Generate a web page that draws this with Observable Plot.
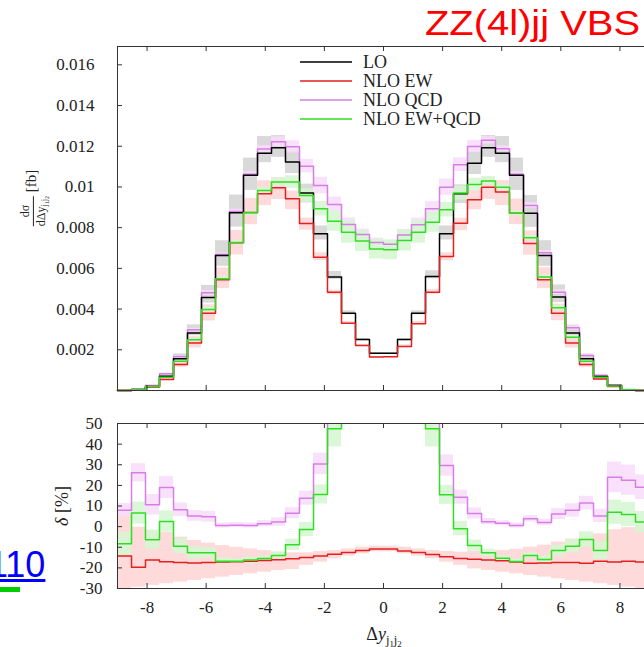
<!DOCTYPE html>
<html>
<head>
<meta charset="utf-8">
<script src="https://cdn.jsdelivr.net/npm/d3@7"></script>
<script src="https://cdn.jsdelivr.net/npm/@observablehq/plot@0.6"></script>
<style>
  html, body { margin: 0; padding: 0; width: 644px; height: 647px; overflow: hidden; background: #fff; }
  #root { position: relative; width: 644px; height: 647px; overflow: hidden; }
  #root svg { max-width: none !important; }
  .abs { position: absolute; }
  .serif { font-family: "Liberation Serif", "DejaVu Serif", serif; color: #222; }
  .rot { transform: translate(-50%, -50%) rotate(-90deg); white-space: nowrap; }
  .frac { display: inline-flex; flex-direction: column; vertical-align: middle; font-size: 12px; line-height: 1.05; text-align: center; }
  .frac .num { border-bottom: 1px solid #222; padding: 0 1px 1px 1px; }
  .frac .den { padding-top: 1px; }
  sub { font-size: 70%; vertical-align: -0.3em; line-height: 0; }
  .legend-row { position: absolute; left: 300px; display: flex; align-items: center; height: 20px; }
</style>
</head>
<body>
<div id="root"></div>
<script>
// ---------------- data ----------------
const binEdges = [-9, -8.526, -8.053, -7.579, -7.105, -6.632, -6.158, -5.684, -5.211, -4.737,
  -4.263, -3.789, -3.316, -2.842, -2.368, -1.895, -1.421, -0.947, -0.474, 0,
  0.474, 0.947, 1.421, 1.895, 2.368, 2.842, 3.316, 3.789, 4.263, 4.737,
  5.211, 5.684, 6.158, 6.632, 7.105, 7.579, 8.053, 8.526, 9];

const seriesNames = ["LO", "NLO EW", "NLO QCD", "NLO EW+QCD"];
const seriesColors = ["#000000", "#e41f1f", "#d77ee6", "#30dd22"];
const bandColors = ["#d2d2d2", "#ffd3d3", "#f8dcfb", "#d3f7d0"];

// d sigma / d Delta y  [fb]
const lo = [0, 0.00005, 0.0002, 0.0007, 0.00156, 0.00283, 0.00457, 0.00663, 0.00873, 0.01057,
  0.01166, 0.01193, 0.01122, 0.0097, 0.0077, 0.00557, 0.0038, 0.00251, 0.00183, 0.00183,
  0.0025, 0.0038, 0.0056, 0.0077, 0.00967, 0.01117, 0.01193, 0.01166, 0.01057, 0.00871,
  0.00663, 0.00459, 0.00282, 0.00156, 0.00069, 0.00025, 0.00004, 0];
const nloEW = [0, 0.00004, 0.00017, 0.00054, 0.00128, 0.00233, 0.0038, 0.00544, 0.00726, 0.00875,
  0.00967, 0.00996, 0.00942, 0.0082, 0.00655, 0.00483, 0.00331, 0.00221, 0.00164, 0.00166,
  0.00216, 0.00328, 0.00483, 0.00658, 0.00822, 0.00937, 0.00999, 0.00975, 0.00871, 0.00722,
  0.00544, 0.0038, 0.00233, 0.00128, 0.00057, 0.0002, 0.00003, 0];
const nloQCD = [0, 0.00006, 0.00025, 0.00082, 0.00167, 0.00298, 0.0048, 0.00668, 0.0088, 0.01062,
  0.01186, 0.01222, 0.01197, 0.01102, 0.01007, 0.00914, 0.00815, 0.00766, 0.00727, 0.00718,
  0.00764, 0.00814, 0.00893, 0.00999, 0.01109, 0.01199, 0.01229, 0.01188, 0.01062, 0.00909,
  0.00677, 0.00483, 0.00308, 0.00172, 0.00074, 0.00027, 0.00005, 0];
const nloEWQCD = [0, 0.00004, 0.0002, 0.00065, 0.00144, 0.00249, 0.00398, 0.00549, 0.00727, 0.00873,
  0.00983, 0.01024, 0.01024, 0.00958, 0.00893, 0.00832, 0.00778, 0.00734, 0.00695, 0.00691,
  0.00737, 0.00778, 0.00827, 0.00888, 0.0097, 0.01012, 0.01029, 0.00999, 0.00871, 0.0075,
  0.00557, 0.00406, 0.00262, 0.00144, 0.00065, 0.00022, 0.00004, 0];

// LO scale band, percent up / down
const loBandUp = [15, 15, 15, 15, 15, 14, 13, 11, 10, 8, 7, 5, 5, 4.5, 5, 5, 3, 2, 1.5, 1.5,
  2, 3, 5, 5, 4.5, 5, 5, 7, 8, 10, 11, 13, 14, 15, 15, 15, 15, 15];
const loBandDown = [8, 8, 8, 8, 6, 5, 6, 8, 8, 7, 4, 4, 5, 5, 4, 2, 2, 2, 1.5, 1.5,
  2, 2, 2, 4, 5, 5, 4, 4, 7, 8, 8, 6, 5, 6, 8, 8, 8, 8];

// relative corrections delta [%]
const deltaEW = [-14.3, -19.7, -16.2, -17.0, -17.4, -17.6, -17.4, -17.2, -17.0, -16.8,
  -16.4, -16.0, -15.6, -15.0, -14.2, -13.4, -12.6, -11.6, -10.9, -10.9,
  -11.8, -12.6, -13.5, -14.6, -15.4, -15.8, -16.2, -16.6, -17.2, -17.8,
  -17.6, -17.4, -17.4, -17.8, -16.8, -17.2, -16.8, -17.2];
const deltaQCD = [8.0, 26.1, 10.6, 19.0, 8.2, 5.2, 4.8, 0.5, 0.7, 0.5,
  1.4, 2.2, 6.5, 13.8, 30.4, 64, 113, 207, 296, 289,
  206, 114, 59, 29.6, 14.3, 6.4, 2.4, 1.6, 0.5, 3.8,
  2.0, 6.1, 7.9, 11.4, 5.2, 23.9, 22.5, 19.1];
const deltaEWQCD = [-8.3, 6.6, -6.4, 2.5, -9.5, -12.7, -12.7, -16.8, -16.8, -16.2,
  -15.5, -14.0, -8.8, -1.4, 15.6, 47.5, 105, 192, 280, 278,
  195, 105, 47.5, 15.4, -1.0, -9.2, -12.7, -15.3, -16.9, -14.0,
  -15.9, -11.6, -9.5, -6.2, -11.6, 7.0, 5.9, 2.2];

// NLO EW scale band in delta units [%]
const deltaEWBandHi = [10.2, -0.3, -1.9, -2.7, -5.1, -6.7, -8.0, -9.2, -10.0, -10.8,
  -11.6, -12.4, -12.7, -12.7, -12.1, -11.6, -10.8, -10.0, -9.5, -9.5,
  -10.0, -10.8, -11.6, -12.1, -12.4, -12.0, -12.0, -11.6, -11.0, -10.0,
  -9.0, -7.5, -6.0, -5.0, -3.5, -1.5, -0.5, 0.5];
const deltaEWBandLo = [-31, -29.4, -28.5, -27.7, -26.9, -26.1, -25.3, -24.5, -23.7, -22.9,
  -22.1, -21.3, -20.8, -18.8, -17.2, -15.6, -14.3, -13.2, -12.2, -12.2,
  -13.2, -14.3, -15.6, -17.2, -18.8, -20.5, -21.3, -22.1, -22.9, -23.7,
  -24.5, -25.3, -26.1, -26.9, -27.7, -28.5, -29.4, -31];

// NLO QCD and NLO EW+QCD scale bands, +- percent of own value
const qcdBandPct = [3, 3.5, 4.5, 4.5, 3, 2.5, 2.5, 1.2, 1.2, 1.2, 1.5, 2, 2.5, 3, 4, 4, 4, 3.5, 3, 3,
  3.5, 4, 4, 4, 3, 2.5, 1.5, 1.2, 1.2, 1.5, 1.5, 2.5, 3, 3, 3, 6, 6, 5];
const ewqcdBandPct = [6, 5, 5, 5, 4, 3.5, 3, 2, 1.5, 1.5, 1.5, 2, 3, 3.5, 4, 6, 7, 7, 7, 7,
  7, 7, 6, 4, 3.5, 3, 2, 1.5, 1.5, 1.5, 2, 3, 3.5, 4, 5, 5.5, 5.5, 5];

const xTicks = [-8, -6, -4, -2, 0, 2, 4, 6, 8];
const xTickLabels = ["-8", "-6", "-4", "-2", "0", "2", "4", "6", "8"];
const yTicksTop = [0.002, 0.004, 0.006, 0.008, 0.01, 0.012, 0.014, 0.016];
const yTickLabelsTop = ["0.002", "0.004", "0.006", "0.008", "0.01", "0.012", "0.014", "0.016"];
const yTicksBottom = [-30, -20, -10, 0, 10, 20, 30, 40, 50];
const yTickLabelsBottom = ["-30", "-20", "-10", "0", "10", "20", "30", "40", "50"];

// ---------------- build tables ----------------
const nBins = lo.length;
function steps(vals) {
  const pts = vals.map((v, i) => ({x: binEdges[i], y: v}));
  pts.push({x: binEdges[nBins], y: vals[nBins - 1]});
  return pts;
}
function rects(lowF, highF) {
  return d3.range(nBins).map(i => ({x1: binEdges[i], x2: binEdges[i + 1], y1: lowF(i), y2: highF(i)}));
}
const bandsTop = [
  rects(i => lo[i] * (1 - loBandDown[i] / 100), i => lo[i] * (1 + loBandUp[i] / 100)),
  rects(i => lo[i] * (1 + deltaEWBandLo[i] / 100), i => lo[i] * (1 + deltaEWBandHi[i] / 100)),
  rects(i => nloQCD[i] * (1 - qcdBandPct[i] / 100), i => nloQCD[i] * (1 + qcdBandPct[i] / 100)),
  rects(i => nloEWQCD[i] * (1 - ewqcdBandPct[i] / 100), i => nloEWQCD[i] * (1 + ewqcdBandPct[i] / 100))
];
const bandsBottom = [
  null,
  rects(i => deltaEWBandLo[i], i => deltaEWBandHi[i]),
  rects(i => deltaQCD[i] - (100 + deltaQCD[i]) * qcdBandPct[i] / 100, i => deltaQCD[i] + (100 + deltaQCD[i]) * qcdBandPct[i] / 100),
  rects(i => deltaEWQCD[i] - (100 + deltaEWQCD[i]) * ewqcdBandPct[i] / 100, i => deltaEWQCD[i] + (100 + deltaEWQCD[i]) * ewqcdBandPct[i] / 100)
];

// ---------------- layout ----------------
const W = 660, X0 = 117, X1 = 649;
const frameColor = "#333";
const fontStack = "'Liberation Serif', 'DejaVu Serif', serif";

function inwardTicks(innerW, innerH, yTicks) {
  return [
    Plot.tickX(xTicks, {x: d => d, insetTop: innerH - 5, stroke: frameColor}),
    Plot.tickX(xTicks, {x: d => d, insetBottom: innerH - 5, stroke: frameColor}),
    Plot.tickY(yTicks, {y: d => d, insetRight: innerW - 5, stroke: frameColor}),
    Plot.tickY(yTicks, {y: d => d, insetLeft: innerW - 5, stroke: frameColor})
  ];
}

// upper panel
const topMT = 46, topMB = 2, topH = 392;
const topInnerH = topH - topMT - topMB;
const topLabelMap = new Map(yTicksTop.map((t, i) => [t, yTickLabelsTop[i]]));
const upper = Plot.plot({
  width: W, height: topH,
  marginLeft: X0, marginRight: W - X1, marginTop: topMT, marginBottom: topMB,
  x: {domain: [-9, 9], axis: null},
  y: {domain: [0, 0.0169]},
  style: {fontFamily: fontStack, fontSize: "17px", color: "#222", background: "transparent", overflow: "visible", maxWidth: "none"},
  marks: [
    ...[0, 1, 2, 3].map(k => Plot.rect(bandsTop[k], {x1: "x1", x2: "x2", y1: "y1", y2: "y2", fill: bandColors[k], fillOpacity: 0.85})),
    Plot.line(steps(nloQCD), {x: "x", y: "y", curve: "step-after", stroke: seriesColors[2], strokeWidth: 1.5}),
    Plot.line(steps(lo), {x: "x", y: "y", curve: "step-after", stroke: seriesColors[0], strokeWidth: 1.5}),
    Plot.line(steps(nloEW), {x: "x", y: "y", curve: "step-after", stroke: seriesColors[1], strokeWidth: 1.5}),
    Plot.line(steps(nloEWQCD), {x: "x", y: "y", curve: "step-after", stroke: seriesColors[3], strokeWidth: 1.5}),
    Plot.frame({stroke: frameColor}),
    ...inwardTicks(X1 - X0, topInnerH, yTicksTop),
    Plot.axisY(yTicksTop, {tickSize: 0, tickPadding: 23, label: null, tickFormat: d => topLabelMap.get(d), fontSize: 17})
  ]
});

// lower panel
const botTop = 400, botMT = 23, botMB = 59, botH = 247;
const botInnerH = botH - botMT - botMB;
const botLabelMap = new Map(yTicksBottom.map((t, i) => [t, yTickLabelsBottom[i]]));
const xLabelMap = new Map(xTicks.map((t, i) => [t, xTickLabels[i]]));
const lower = Plot.plot({
  width: W, height: botH,
  marginLeft: X0, marginRight: W - X1, marginTop: botMT, marginBottom: botMB,
  x: {domain: [-9, 9]},
  y: {domain: [-30, 50]},
  style: {fontFamily: fontStack, fontSize: "17px", color: "#222", background: "transparent", overflow: "visible", maxWidth: "none"},
  marks: [
    ...[1, 2, 3].map(k => Plot.rect(bandsBottom[k], {x1: "x1", x2: "x2", y1: "y1", y2: "y2", fill: bandColors[k], fillOpacity: 0.85, clip: true})),
    Plot.line(steps(deltaEW), {x: "x", y: "y", curve: "step-after", stroke: seriesColors[1], strokeWidth: 1.5, clip: true}),
    Plot.line(steps(deltaQCD), {x: "x", y: "y", curve: "step-after", stroke: seriesColors[2], strokeWidth: 1.5, clip: true}),
    Plot.line(steps(deltaEWQCD), {x: "x", y: "y", curve: "step-after", stroke: seriesColors[3], strokeWidth: 1.5, clip: true}),
    Plot.frame({stroke: frameColor}),
    ...inwardTicks(X1 - X0, botInnerH, yTicksBottom),
    Plot.axisY(yTicksBottom, {tickSize: 0, tickPadding: 15, label: null, tickFormat: d => botLabelMap.get(d), fontSize: 17}),
    Plot.axisX(xTicks, {tickSize: 0, tickPadding: 12, label: null, tickFormat: d => xLabelMap.get(d), fontSize: 17})
  ]
});

const root = document.getElementById("root");
for (const [svg, top] of [[upper, 0], [lower, botTop]]) {
  svg.style.position = "absolute";
  svg.style.left = "0px";
  svg.style.top = top + "px";
  svg.style.maxWidth = "none";
  svg.style.width = W + "px";
  root.appendChild(svg);
}

// legend (inside upper frame)
const legendY = [52, 71, 90, 109];
seriesNames.forEach((name, i) => {
  const row = document.createElement("div");
  row.className = "legend-row serif";
  row.style.top = legendY[i] + "px";
  row.innerHTML = `<svg width="52" height="20" style="display:block"><line x1="0" x2="52" y1="10" y2="10" stroke="${seriesColors[i]}" stroke-width="1.6"/></svg>` +
    `<span style="margin-left:11px;font-size:18px;line-height:20px">${name}</span>`;
  root.appendChild(row);
});

// axis titles
const yTitleTop = document.createElement("div");
yTitleTop.className = "abs serif rot";
yTitleTop.style.left = "33px"; yTitleTop.style.top = "198px";
yTitleTop.style.fontSize = "15px";
yTitleTop.innerHTML = `<span class="frac"><span class="num">d&sigma;</span><span class="den">d&Delta;y<sub>j<sub>1</sub>j<sub>2</sub></sub></span></span> [fb]`;
root.appendChild(yTitleTop);

const yTitleBot = document.createElement("div");
yTitleBot.className = "abs serif rot";
yTitleBot.style.left = "62px"; yTitleBot.style.top = "506px";
yTitleBot.style.fontSize = "18px";
yTitleBot.innerHTML = `<i>&delta;</i> [%]`;
root.appendChild(yTitleBot);

const xTitle = document.createElement("div");
xTitle.className = "abs serif";
xTitle.style.left = "384px"; xTitle.style.top = "625px";
xTitle.style.transform = "translateX(-50%)";
xTitle.style.fontSize = "18px"; xTitle.style.lineHeight = "1";
xTitle.style.whiteSpace = "nowrap";
xTitle.innerHTML = `&Delta;<i>y</i><sub>j<sub>1</sub>j<sub>2</sub></sub>`;
root.appendChild(xTitle);

// slide decorations
const title = document.createElement("div");
title.className = "abs";
title.style.cssText = "left:425px;top:5px;font-family:'Liberation Sans',Arial,sans-serif;font-size:35px;line-height:1;color:#ff0000;white-space:nowrap;transform:scaleX(1.14);transform-origin:0 0;";
title.textContent = "ZZ(4l)jj VBS";
root.appendChild(title);

const link = document.createElement("div");
link.className = "abs";
link.style.cssText = "left:-12px;top:547px;font-family:'Liberation Sans',Arial,sans-serif;font-size:36px;line-height:1;color:#0000ff;text-decoration:underline;white-space:nowrap;";
link.textContent = "110";
root.appendChild(link);

const bar = document.createElement("div");
bar.className = "abs";
bar.style.cssText = "left:0px;top:587px;width:20px;height:5px;background:#00cc00;";
root.appendChild(bar);
</script>
</body>
</html>
